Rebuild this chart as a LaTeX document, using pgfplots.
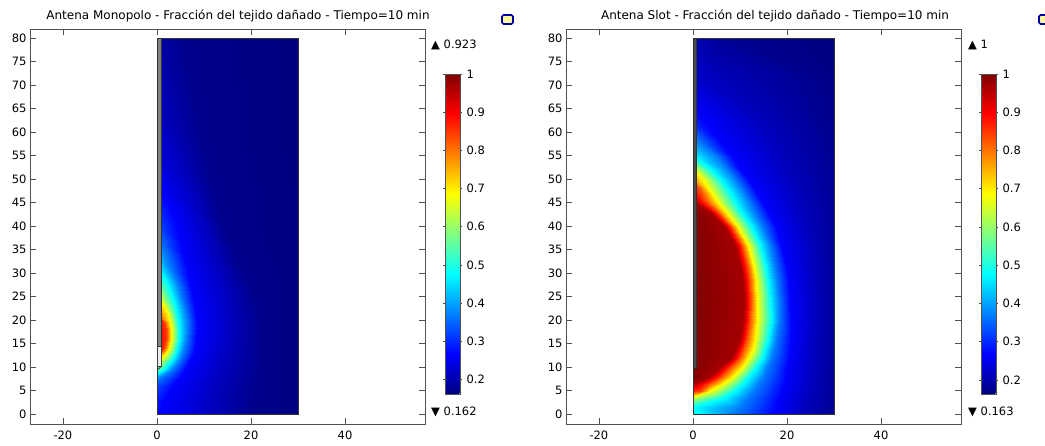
\documentclass[border=0pt]{standalone}
\usepackage{fontspec}
\setmainfont{DejaVu Sans}
\usepackage{pgfplots}
\usepackage{pgfplotstable}
\pgfplotsset{compat=1.18}
\definecolor{frame}{HTML}{505050}
\definecolor{antdark}{HTML}{4a4a4a}

% Antena Slot: damaged fraction on a curvilinear grid following the contours
\pgfplotstableread[row sep=\\]{
x y c\\
0 0 .50\\ 0 0 .50\\ 0 0 .50\\ 0 0 .50\\ 1 0 .48\\ 8.5 0 .37\\ 17 0 .267\\ 23 0 .215\\ 30 0 .178\\
0 1.6 .48\\ 0 1.6 .48\\ 0 1.6 .48\\ 0 1.6 .48\\ 0 1.6 .48\\ 10 1.6 .37\\ 17.6 1.6 .267\\ 23.5 1.6 .215\\ 30 1.6 .179\\
0 3.4 .63\\ 0 3.4 .63\\ 0 3.4 .63\\ 0 3.4 .63\\ 6.2 3.4 .48\\ 11.5 3.4 .37\\ 18.3 3.4 .267\\ 24 3.4 .215\\ 30 3.4 .18\\
0 5 .86\\ 0 5 .86\\ 1.8 5 .83\\ 3.5 5 .69\\ 8.8 5 .48\\ 12.8 5 .37\\ 18.9 5 .267\\ 24.5 5 .215\\ 30 5 .181\\
0 6.5 .98\\ 0 6.5 .97\\ 3.4 6.5 .83\\ 6.2 6.5 .69\\ 10.4 6.5 .48\\ 13.8 6.5 .37\\ 19.3 6.5 .267\\ 24.8 6.5 .215\\ 30 6.5 .182\\
0 8 1\\ 3.5 8 .97\\ 5.9 8 .83\\ 8.3 8 .69\\ 11.8 8 .48\\ 14.8 8 .37\\ 19.7 8 .267\\ 25 8 .215\\ 30 8 .182\\
0 10 1\\ 5.8 10 .97\\ 8.1 10 .83\\ 10.4 10 .69\\ 13.5 10 .48\\ 15.8 10 .37\\ 20.1 10 .267\\ 25.3 10 .215\\ 30 10 .183\\
0 12 1\\ 8 12 .97\\ 9.9 12 .83\\ 11.8 12 .69\\ 14.7 12 .48\\ 16.6 12 .37\\ 20.4 12 .267\\ 25.5 12 .215\\ 30 12 .183\\
0 14 1\\ 9.2 14 .97\\ 10.95 14 .83\\ 12.7 14 .69\\ 15.4 14 .48\\ 17.2 14 .37\\ 20.6 14 .267\\ 25.7 14 .215\\ 30 14 .184\\
0 16 1\\ 9.9 16 .97\\ 11.5 16 .83\\ 13.1 16 .69\\ 16 16 .48\\ 17.7 16 .37\\ 20.8 16 .267\\ 25.8 16 .215\\ 30 16 .184\\
0 20 1\\ 10.6 20 .97\\ 12.1 20 .83\\ 13.6 20 .69\\ 16.5 20 .48\\ 18.2 20 .37\\ 20.8 20 .267\\ 26 20 .215\\ 30 20 .184\\
0 24 1\\ 10.9 24 .97\\ 12.3 24 .83\\ 13.7 24 .69\\ 16.4 24 .48\\ 18.2 24 .37\\ 20.7 24 .267\\ 26 24 .215\\ 30 24 .184\\
0 28 1\\ 10.7 28 .97\\ 12.1 28 .83\\ 13.5 28 .69\\ 16 28 .48\\ 17.9 28 .37\\ 20.4 28 .267\\ 25.8 28 .215\\ 30 28 .184\\
0 32 1\\ 10 32 .97\\ 11.4 32 .83\\ 12.8 32 .69\\ 15.3 32 .48\\ 17.3 32 .37\\ 19.8 32 .267\\ 25.4 32 .215\\ 30 32 .184\\
0 36 1\\ 9 36 .97\\ 10.4 36 .83\\ 11.8 36 .69\\ 14.3 36 .48\\ 16.3 36 .37\\ 18.8 36 .267\\ 24.8 36 .215\\ 30 36 .184\\
0 40 1\\ 6.5 40 .97\\ 8 40 .83\\ 9.4 40 .69\\ 12.3 40 .48\\ 14.6 40 .37\\ 17.6 40 .267\\ 23.8 40 .215\\ 30 40 .183\\
0 43 1\\ 3.6 43 .97\\ 5.3 43 .83\\ 7 43 .69\\ 10.3 43 .48\\ 13 43 .37\\ 16 43 .267\\ 23 43 .215\\ 30 43 .182\\
0 45.6 .97\\ 0 45.6 .97\\ 2.6 45.6 .83\\ 5 45.6 .69\\ 8.8 45.6 .48\\ 11.6 45.6 .37\\ 14.5 45.6 .267\\ 22.2 45.6 .215\\ 30 45.6 .181\\
0 48 .88\\ 0 48 .88\\ 1.2 48 .83\\ 3.3 48 .69\\ 7.2 48 .48\\ 10.2 48 .37\\ 12.9 48 .267\\ 21.3 48 .215\\ 30 48 .18\\
0 50 .78\\ 0 50 .78\\ 0 50 .78\\ 2 50 .69\\ 5.8 50 .48\\ 9 50 .37\\ 11.6 50 .267\\ 20.5 50 .215\\ 30 50 .179\\
0 52 .69\\ 0 52 .69\\ 0 52 .69\\ 0 52 .69\\ 3.8 52 .48\\ 7.5 52 .37\\ 10.2 52 .267\\ 19.6 52 .215\\ 30 52 .178\\
0 54.9 .48\\ 0 54.9 .48\\ 0 54.9 .48\\ 0 54.9 .48\\ 0 54.9 .48\\ 5 54.9 .37\\ 8.2 54.9 .267\\ 18.3 54.9 .215\\ 30 54.9 .177\\
0 58 .38\\ 0 58 .38\\ 0 58 .38\\ 0 58 .38\\ 0 58 .38\\ 1 58 .37\\ 5.8 58 .267\\ 16.6 58 .215\\ 30 58 .175\\
0 62 .30\\ 0 62 .30\\ 0 62 .30\\ 0 62 .30\\ 0 62 .30\\ 0 62 .30\\ 2.5 62 .267\\ 14.2 62 .215\\ 30 62 .172\\
0 66 .26\\ 0 66 .26\\ 0 66 .26\\ 0 66 .26\\ 0 66 .26\\ 0 66 .26\\ 0 66 .26\\ 10 66 .215\\ 30 66 .17\\
0 72 .225\\ 0 72 .225\\ 0 72 .225\\ 0 72 .225\\ 0 72 .225\\ 0 72 .225\\ 0 72 .225\\ 3.5 72 .215\\ 30 72 .167\\
0 80 .205\\ 0 80 .205\\ 0 80 .205\\ 0 80 .205\\ 0 80 .205\\ 0 80 .205\\ 0 80 .205\\ 7 80 .178\\ 30 80 .164\\
}\slotdata

% Antena Monopolo
\pgfplotstableread[row sep=\\]{
x y c\\
0 0 .27\\ 0 0 .27\\ 0 0 .27\\ 0 0 .27\\ 0 0 .27\\ .5 0 .267\\ 11 0 .215\\ 20 0 .172\\ 30 0 .163\\
0 3 .285\\ 0 3 .285\\ 0 3 .285\\ 0 3 .285\\ 0 3 .285\\ 1.5 3 .267\\ 11.5 3 .215\\ 20.5 3 .172\\ 30 3 .163\\
0 6 .32\\ 0 6 .32\\ 0 6 .32\\ 0 6 .32\\ 0 6 .32\\ 3.5 6 .267\\ 12 6 .215\\ 21 6 .172\\ 30 6 .163\\
0 7.5 .37\\ 0 7.5 .37\\ 0 7.5 .37\\ 0 7.5 .37\\ 0 7.5 .37\\ 4.5 7.5 .267\\ 12.5 7.5 .215\\ 21.5 7.5 .172\\ 30 7.5 .163\\
0 8.7 .48\\ 0 8.7 .48\\ 0 8.7 .48\\ 0 8.7 .48\\ 2.2 8.7 .37\\ 5.5 8.7 .267\\ 13 8.7 .215\\ 21.5 8.7 .172\\ 30 8.7 .163\\
0 9.5 .55\\ 0 9.5 .55\\ 0 9.5 .55\\ 1.4 9.5 .48\\ 3.3 9.5 .37\\ 6 9.5 .267\\ 13.3 9.5 .215\\ 22 9.5 .172\\ 30 9.5 .163\\
0 11 .69\\ 0 11 .69\\ 0 11 .69\\ 2.8 11 .48\\ 4.5 11 .37\\ 6.9 11 .267\\ 13.8 11 .215\\ 22 11 .172\\ 30 11 .163\\
0 12.8 .85\\ 0 12.8 .85\\ 1.8 12.8 .69\\ 3.9 12.8 .48\\ 5.3 12.8 .37\\ 7.6 12.8 .267\\ 14.3 12.8 .215\\ 22 12.8 .172\\ 30 12.8 .163\\
0 14 .90\\ 1.5 14 .85\\ 2.6 14 .69\\ 4.3 14 .48\\ 5.8 14 .37\\ 8 14 .267\\ 14.7 14 .215\\ 22 14 .172\\ 30 14 .164\\
0 16 .92\\ 2 16 .85\\ 3 16 .69\\ 4.6 16 .48\\ 6.2 16 .37\\ 8.3 16 .267\\ 15.3 16 .215\\ 22 16 .172\\ 30 16 .164\\
0 18 .923\\ 2 18 .85\\ 3 18 .69\\ 4.7 18 .48\\ 6.4 18 .37\\ 8.5 18 .267\\ 15.3 18 .215\\ 22 18 .172\\ 30 18 .164\\
0 19.5 .90\\ 1.6 19.5 .85\\ 2.8 19.5 .69\\ 4.5 19.5 .48\\ 6.3 19.5 .37\\ 8.5 19.5 .267\\ 15.3 19.5 .215\\ 22 19.5 .172\\ 30 19.5 .164\\
0 21 .85\\ 0 21 .85\\ 2.4 21 .69\\ 4.2 21 .48\\ 6.1 21 .37\\ 8.3 21 .267\\ 15.3 21 .215\\ 21.5 21 .172\\ 30 21 .164\\
0 23 .78\\ 0 23 .78\\ 1.6 23 .69\\ 3.8 23 .48\\ 5.7 23 .37\\ 8 23 .267\\ 15.2 23 .215\\ 21 23 .172\\ 30 23 .164\\
0 25 .69\\ 0 25 .69\\ 0 25 .69\\ 3.3 25 .48\\ 5.2 25 .37\\ 7.6 25 .267\\ 14.8 25 .215\\ 20.5 25 .172\\ 30 25 .164\\
0 27.5 .60\\ 0 27.5 .60\\ 0 27.5 .60\\ 2.4 27.5 .48\\ 4.4 27.5 .37\\ 7.1 27.5 .267\\ 14.2 27.5 .215\\ 19.5 27.5 .172\\ 30 27.5 .164\\
0 29 .53\\ 0 29 .53\\ 0 29 .53\\ 1.5 29 .48\\ 3.9 29 .37\\ 6.8 29 .267\\ 13.7 29 .215\\ 18.8 29 .172\\ 30 29 .164\\
0 31 .48\\ 0 31 .48\\ 0 31 .48\\ 0 31 .48\\ 2.8 31 .37\\ 6.4 31 .267\\ 13 31 .215\\ 17.7 31 .172\\ 30 31 .164\\
0 34 .42\\ 0 34 .42\\ 0 34 .42\\ 0 34 .42\\ 1.8 34 .37\\ 5.6 34 .267\\ 12 34 .215\\ 16.5 34 .172\\ 30 34 .163\\
0 37 .37\\ 0 37 .37\\ 0 37 .37\\ 0 37 .37\\ 0 37 .37\\ 4.9 37 .267\\ 11 37 .215\\ 15.2 37 .172\\ 30 37 .163\\
0 40 .33\\ 0 40 .33\\ 0 40 .33\\ 0 40 .33\\ 0 40 .33\\ 4.2 40 .267\\ 10 40 .215\\ 14 40 .172\\ 30 40 .163\\
0 44 .30\\ 0 44 .30\\ 0 44 .30\\ 0 44 .30\\ 0 44 .30\\ 2.8 44 .267\\ 8.5 44 .215\\ 13 44 .172\\ 30 44 .163\\
0 48 .27\\ 0 48 .27\\ 0 48 .27\\ 0 48 .27\\ 0 48 .27\\ .3 48 .267\\ 7 48 .215\\ 12 48 .172\\ 30 48 .163\\
0 55 .235\\ 0 55 .235\\ 0 55 .235\\ 0 55 .235\\ 0 55 .235\\ 0 55 .235\\ 4 55 .215\\ 10.5 55 .172\\ 30 55 .162\\
0 65 .215\\ 0 65 .215\\ 0 65 .215\\ 0 65 .215\\ 0 65 .215\\ 0 65 .215\\ 0 65 .215\\ 8.5 65 .172\\ 30 65 .162\\
0 80 .195\\ 0 80 .195\\ 0 80 .195\\ 0 80 .195\\ 0 80 .195\\ 0 80 .195\\ 0 80 .195\\ 6 80 .172\\ 30 80 .162\\
}\monodata

\pgfplotsset{
  comsol/.style={
    scale only axis, width=395pt, height=395pt,
    xmin=-27, xmax=57, ymin=-2.1, ymax=81.9,
    xtick={-20,0,20,40}, ytick={0,5,...,80},
    tick align=inside, tick pos=both, major tick length=6pt,
    axis line style={frame, line width=0.8pt},
    every tick/.style={frame, line width=0.6pt},
    tick label style={font=\fontsize{11.5}{13}\selectfont},
    /pgf/number format/assume math mode=true,
    xticklabel style={yshift=-3pt},
    colormap/jet,
    axis on top,
    colorbar,
    colorbar style={
      at={(parent axis.south east)}, anchor=south west,
      xshift=11.5pt, yshift=30pt,
      scale only axis, width=15pt, height=320pt,
      ytick={0.2,0.3,0.4,0.5,0.6,0.7,0.8,0.9,1},
      yticklabel pos=right,
      tick align=outside, major tick length=2pt,
      axis line style={frame, line width=0.8pt},
      every tick/.style={frame, line width=0.5pt},
      yticklabel style={font=\fontsize{11.5}{13}\selectfont, xshift=1pt,
        /pgf/number format/fixed, /pgf/number format/precision=1,
        /pgf/number format/assume math mode=true},
    },
  },
}
\tikzset{antfont/.style={font=\fontsize{11.5}{13}\selectfont},
  titfont/.style={font=\fontsize{12}{14}\selectfont}}

\begin{document}
\begin{tikzpicture}[x=1pt,y=1pt]
% ---------- Left: Monopolo ----------
\begin{axis}[comsol, at={(30pt,-424pt)}, anchor=south west,
  point meta min=0.162, point meta max=1]
\addplot[surf, shader=interp, mesh/cols=9, point meta=explicit]
  table[x=x, y=y, meta=c] {\monodata};
\addplot[draw=black!80, line width=0.7pt] coordinates {(0,0) (30,0) (30,80) (0,80)} -- cycle;
\addplot[fill=black!50, draw=black!80, line width=0.8pt] coordinates {(0,14.4) (0.85,14.4) (0.85,80) (0,80)} -- cycle;
\addplot[fill=gray!15, draw=black!75, line width=0.8pt] coordinates {(0,10.1) (0.85,10.1) (0.85,14.4) (0,14.4)} -- cycle;
\addplot[draw=black!75, line width=0.8pt] coordinates {(0.85,10.1) (0,9.3)};
\end{axis}
% ---------- Right: Slot ----------
\begin{axis}[comsol, at={(566pt,-424pt)}, anchor=south west,
  point meta min=0.163, point meta max=1]
\addplot[surf, shader=interp, mesh/cols=9, point meta=explicit]
  table[x=x, y=y, meta=c] {\slotdata};
\addplot[draw=black!80, line width=0.7pt] coordinates {(0,0) (30,0) (30,80) (0,80)} -- cycle;
\addplot[fill=antdark, draw=black!80, line width=0.5pt] coordinates {(0,9.8) (0.75,9.8) (0.75,80) (0,80)} -- cycle;
\end{axis}
% ---------- titles and range labels ----------
\node[titfont] at (238,-16) {Antena Monopolo - Fracción del tejido dañado - Tiempo=10 min};
\node[titfont] at (775,-16) {Antena Slot - Fracción del tejido dañado - Tiempo=10 min};
\node[antfont, anchor=west, inner sep=0pt] at (431,-45) {▲ 0.923};
\node[antfont, anchor=west, inner sep=0pt] at (431,-412) {▼ 0.162};
\node[antfont, anchor=west, inner sep=0pt] at (968,-45) {▲ 1};
\node[antfont, anchor=west, inner sep=0pt] at (968,-412) {▼ 0.163};
% small window icons
\draw[rounded corners=1.5pt, draw=blue!65!black, line width=1.6pt, fill=yellow!40!white] (502,-15) rectangle (513,-24);
\draw[rounded corners=1.5pt, draw=blue!65!black, line width=1.6pt, fill=yellow!40!white] (1039,-15) rectangle (1050,-24);
\pgfresetboundingbox
\useasboundingbox (0,0) rectangle (1045,-446);
\end{tikzpicture}
\end{document}
